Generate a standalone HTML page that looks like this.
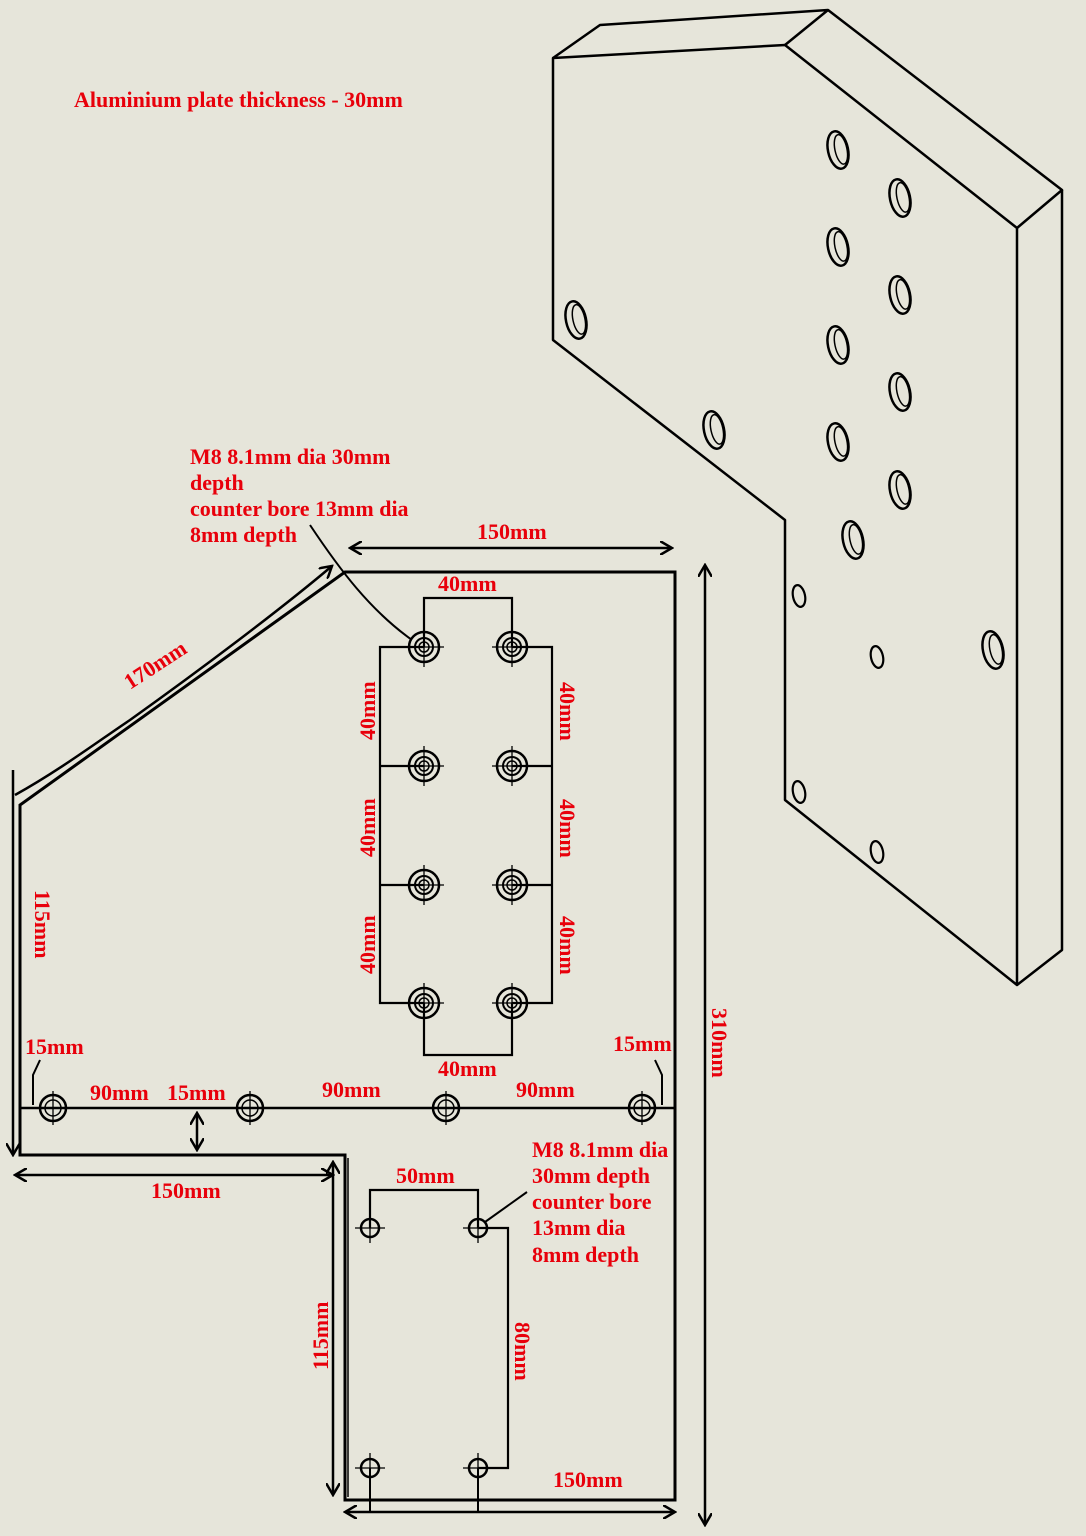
<!DOCTYPE html>
<html><head><meta charset="utf-8"><style>
html,body{margin:0;padding:0;background:#e6e5da;}
svg{display:block}
text{font-family:"Liberation Serif",serif;font-weight:bold;fill:#e8000b;font-size:22px}
</style></head><body>
<svg width="1086" height="1536" viewBox="0 0 1086 1536" xmlns="http://www.w3.org/2000/svg">
<rect width="1086" height="1536" fill="#e6e5da"/>
<defs>
<marker id="ar" markerWidth="14" markerHeight="14" refX="12" refY="7" orient="auto-start-reverse" markerUnits="userSpaceOnUse">
<path d="M0,0 L12,7 L0,14" fill="none" stroke="#000" stroke-width="2.5"/></marker>
<g id="cb"><circle r="15" fill="none" stroke="#000" stroke-width="2.5"/><circle r="9" fill="none" stroke="#000" stroke-width="2"/><circle r="5" fill="none" stroke="#000" stroke-width="1.5"/><path d="M-20,0H20M0,-20V20" stroke="#000" stroke-width="1.3"/></g>
<g id="bh"><circle r="13" fill="none" stroke="#000" stroke-width="2.5"/><circle r="8" fill="none" stroke="#000" stroke-width="1.5"/><path d="M-17,0H17M0,-17V17" stroke="#000" stroke-width="1.3"/></g>
<g id="sh"><circle r="9" fill="none" stroke="#000" stroke-width="2.5"/><path d="M-15,0H15M0,-15V15" stroke="#000" stroke-width="1.3"/></g>
<g id="e"><ellipse rx="10" ry="19" fill="none" stroke="#000" stroke-width="2.5" transform="rotate(-12)"/><ellipse cx="3" rx="6" ry="15" fill="none" stroke="#000" stroke-width="1.5" transform="rotate(-12)"/></g>
<g id="es"><ellipse rx="6" ry="11" fill="none" stroke="#000" stroke-width="2.2" transform="rotate(-12)"/></g>
</defs>
<g fill="none" stroke="#000" stroke-width="2.5" stroke-linejoin="round">
<path d="M553,58 L785,45 L1017,228 L1017,985 L785,800 L785,520 L553,340 Z"/>
<path d="M553,58 L600,25 L828,10 L1062,190 L1017,228"/>
<path d="M785,45 L828,10"/>
<path d="M1062,190 L1062,950 L1017,985"/>
</g>
<use href="#e" x="838" y="150"/><use href="#e" x="900" y="198"/>
<use href="#e" x="838" y="247"/><use href="#e" x="900" y="295"/>
<use href="#e" x="838" y="345"/><use href="#e" x="900" y="392"/>
<use href="#e" x="838" y="442"/><use href="#e" x="900" y="490"/>
<use href="#e" x="853" y="540"/><use href="#e" x="576" y="320"/><use href="#e" x="714" y="430"/>
<use href="#es" x="799" y="596"/><use href="#es" x="877" y="657"/><use href="#e" x="993" y="650"/>
<use href="#es" x="799" y="792"/><use href="#es" x="877" y="852"/>
<text x="74" y="107">Aluminium plate thickness - 30mm</text>
<g fill="none" stroke="#000" stroke-width="3">
<path d="M345,572 L675,572 L675,1500 L345,1500 L345,1155 L20,1155 L20,805 Z"/>
<path d="M348,1158 L348,1497" stroke-width="1.5"/>
<path d="M20,1108 L675,1108" stroke-width="2.5"/>
<path d="M424,647 H380 V1003 H424 M380,766 H424 M380,885 H424" stroke-width="2.2"/>
<path d="M512,647 H552 V1003 H512 M552,766 H512 M552,885 H512" stroke-width="2.2"/>
<path d="M424,647 V598 H512 V647" stroke-width="2.2"/>
<path d="M424,1003 V1055 H512 V1003" stroke-width="2.2"/>
<path d="M370,1228 V1190 H478 V1228" stroke-width="2.2"/>
<path d="M478,1228 H508 V1468 H478" stroke-width="2.2"/>
<path d="M370,1468 V1512 M478,1468 V1512" stroke-width="2"/>
<path d="M350,548 L672,548" stroke-width="2.5" marker-start="url(#ar)" marker-end="url(#ar)"/>
<path d="M705,565 L705,1525" stroke-width="2.5" marker-start="url(#ar)" marker-end="url(#ar)"/>
<path d="M13,770 L13,1155" stroke-width="2.5" marker-end="url(#ar)"/>
<path d="M15,1175 L333,1175" stroke-width="2.5" marker-start="url(#ar)" marker-end="url(#ar)"/>
<path d="M333,1162 L333,1495" stroke-width="2.5" marker-start="url(#ar)" marker-end="url(#ar)"/>
<path d="M345,1512 L675,1512" stroke-width="2.5" marker-start="url(#ar)" marker-end="url(#ar)"/>
<path d="M197,1113 L197,1150" stroke-width="2.5" marker-start="url(#ar)" marker-end="url(#ar)"/>
<path d="M15,795 C60,770 100,740 130,720 C200,670 280,610 332,566" stroke-width="2.5" marker-end="url(#ar)"/>
<path d="M310,525 C340,570 370,610 412,640" stroke-width="2"/>
<path d="M527,1192 L485,1222" stroke-width="2"/>
<path d="M40,1060 L33,1075 V1105" stroke-width="2"/>
<path d="M655,1060 L662,1075 V1105" stroke-width="2"/>
</g>
<use href="#cb" x="424" y="647"/><use href="#cb" x="512" y="647"/>
<use href="#cb" x="424" y="766"/><use href="#cb" x="512" y="766"/>
<use href="#cb" x="424" y="885"/><use href="#cb" x="512" y="885"/>
<use href="#cb" x="424" y="1003"/><use href="#cb" x="512" y="1003"/>
<use href="#bh" x="53" y="1108"/><use href="#bh" x="250" y="1108"/>
<use href="#bh" x="446" y="1108"/><use href="#bh" x="642" y="1108"/>
<use href="#sh" x="370" y="1228"/><use href="#sh" x="478" y="1228"/>
<use href="#sh" x="370" y="1468"/><use href="#sh" x="478" y="1468"/>
<text x="190" y="464">M8 8.1mm dia 30mm</text>
<text x="190" y="490">depth</text>
<text x="190" y="516">counter bore 13mm dia</text>
<text x="190" y="542">8mm depth</text>
<text x="477" y="539">150mm</text>
<text x="438" y="591">40mm</text>
<text x="438" y="1076">40mm</text>
<text transform="translate(130,690) rotate(-33)">170mm</text>
<text transform="translate(375,740) rotate(-90)">40mm</text>
<text transform="translate(375,857) rotate(-90)">40mm</text>
<text transform="translate(375,974) rotate(-90)">40mm</text>
<text transform="translate(560,682) rotate(90)">40mm</text>
<text transform="translate(560,799) rotate(90)">40mm</text>
<text transform="translate(560,916) rotate(90)">40mm</text>
<text transform="translate(35,890) rotate(90)">115mm</text>
<text transform="translate(712,1008) rotate(90)">310mm</text>
<text transform="translate(328,1370) rotate(-90)">115mm</text>
<text transform="translate(515,1322) rotate(90)">80mm</text>
<text x="25" y="1054">15mm</text>
<text x="613" y="1051">15mm</text>
<text x="90" y="1100">90mm</text>
<text x="167" y="1100">15mm</text>
<text x="322" y="1097">90mm</text>
<text x="516" y="1097">90mm</text>
<text x="151" y="1198">150mm</text>
<text x="396" y="1183">50mm</text>
<text x="532" y="1157">M8 8.1mm dia</text>
<text x="532" y="1183">30mm depth</text>
<text x="532" y="1209">counter bore</text>
<text x="532" y="1235">13mm dia</text>
<text x="532" y="1262">8mm depth</text>
<text x="553" y="1487">150mm</text>
</svg>
</body></html>
